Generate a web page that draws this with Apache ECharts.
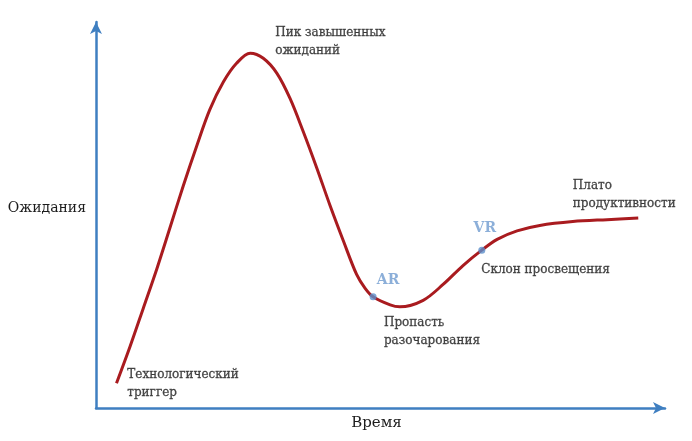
<!DOCTYPE html>
<html>
<head>
<meta charset="utf-8">
<script src="https://cdn.jsdelivr.net/npm/echarts@6/dist/echarts.min.js"></script>
<style>html,body{margin:0;padding:0;background:#fff;}#c{width:692px;height:441px;}</style>
</head>
<body>
<div id="c"></div>
<script>
// Hype curve (time 0-100, expectations 0-100)
var timeValues = [3.6, 6.0, 8.3, 10.7, 13.0, 15.3, 17.7, 20.0, 22.4, 24.7, 27.1, 29.4, 31.8, 34.1, 36.4, 38.8, 41.1, 43.5, 45.8, 47.3, 48.7, 51.7, 53.4, 57.5, 61.0, 64.5, 67.8, 70.5, 74.0, 78.0, 83.8, 89.8, 95.3];
var expectationValues = [6.4, 16.0, 25.8, 36.1, 46.7, 57.4, 67.9, 77.3, 84.5, 89.3, 91.9, 90.6, 86.7, 80.2, 71.7, 62.2, 52.6, 43.2, 34.6, 31.0, 28.8, 26.7, 26.2, 27.9, 32.0, 36.9, 40.9, 43.7, 45.9, 47.3, 48.3, 48.8, 49.2];

// Technology markers
var techNames = ["AR", "VR"];
var techTime = [48.7, 67.8];
var techExpectation = [28.8, 40.9];

// Phase annotations (anchor = top-left of text)
var phaseLabels = ["Технологический\nтриггер", "Пик завышенных\nожиданий", "Пропасть\nразочарования", "Склон просвещения", "Плато\nпродуктивности"];
var phaseTime = [5.5, 31.5, 50.6, 67.7, 83.8];
var phaseExpectation = [10.9, 99.5, 24.4, 38.1, 59.8];

var axisNames = { x: "Время", y: "Ожидания" };

var curve = timeValues.map(function (t, i) { return [t, expectationValues[i]]; });
var techData = techNames.map(function (n, i) {
  return {
    name: n, value: [techTime[i], techExpectation[i]],
    label: { offset: i === 0 ? [15, -16] : [3, -22] }
  };
});
var phaseData = phaseLabels.map(function (n, i) { return { name: n, value: [phaseTime[i], phaseExpectation[i]] }; });

var axisColor = '#3f7fc1';
var serif = 'DejaVu Serif';
var textColor = '#1c1c1c';
var chart = echarts.init(document.getElementById('c'));
chart.setOption({
  animation: false,
  backgroundColor: '#ffffff',
  grid: { left: 96, right: 27, top: 22, bottom: 33 },
  xAxis: {
    type: 'value', min: 0, max: 100,
    name: axisNames.x, nameLocation: 'middle', nameGap: 8,
    nameTextStyle: { fontFamily: serif, fontSize: 15, color: textColor, verticalAlign: 'top', padding: [0, 8, 0, 0] },
    axisLine: { show: true, symbol: ['none', 'arrow'], symbolSize: [9, 12], lineStyle: { color: axisColor, width: 2.5 } },
    axisTick: { show: false }, axisLabel: { show: false }, splitLine: { show: false }
  },
  yAxis: {
    type: 'value', min: 0, max: 100,
    name: axisNames.y, nameLocation: 'middle', nameGap: 10, nameRotate: 0,
    nameTextStyle: { fontFamily: serif, fontSize: 14, color: textColor, align: 'right', verticalAlign: 'bottom' },
    axisLine: { show: true, symbol: ['none', 'arrow'], symbolSize: [9, 12], lineStyle: { color: axisColor, width: 2.5 } },
    axisTick: { show: false }, axisLabel: { show: false }, splitLine: { show: false }
  },
  series: [
    {
      type: 'line', data: curve, smooth: 0.33, showSymbol: false, silent: true,
      lineStyle: { color: '#a91b1f', width: 3 }, z: 2
    },
    {
      type: 'scatter', data: techData, symbolSize: 7, z: 3,
      itemStyle: { color: '#5b8fca' },
      label: { show: true, formatter: '{b}', position: 'inside', fontFamily: serif, fontWeight: 'bold', fontSize: 14, color: '#6f9bd0' }
    },
    {
      type: 'scatter', data: phaseData, symbolSize: 0, z: 4,
      label: {
        show: true, formatter: '{b}', position: [0, 0], align: 'left', verticalAlign: 'top',
        fontFamily: serif, fontSize: 12, lineHeight: 18, color: textColor,
        textBorderColor: textColor, textBorderWidth: 0.3
      }
    }
  ]
});
</script>
</body>
</html>
